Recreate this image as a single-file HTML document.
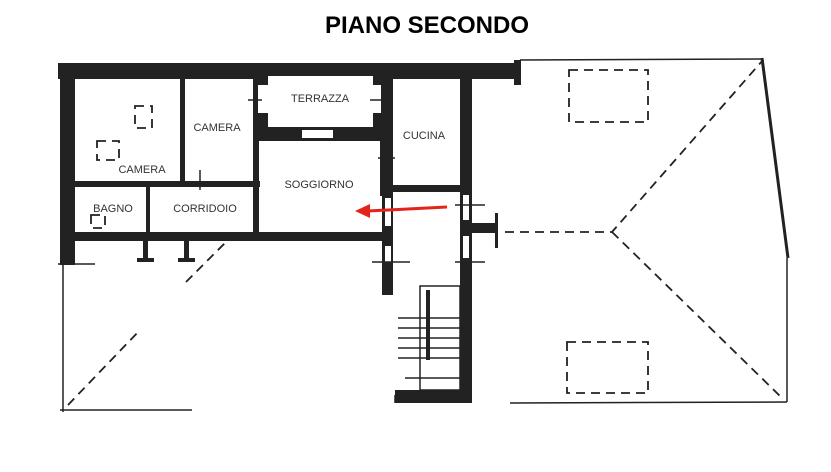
<!DOCTYPE html>
<html><head><style>
body{margin:0;background:#fff;width:831px;height:472px;overflow:hidden}
svg{display:block}
text{font-family:"Liberation Sans",sans-serif}
.l{font-size:11px;fill:#333}
</style></head><body>
<svg width="831" height="472" viewBox="0 0 831 472">
<text x="427" y="33" text-anchor="middle" font-size="24" font-weight="bold" fill="#000">PIANO SECONDO</text>
<g fill="#222">
<rect x="58" y="63" width="462" height="16"/>
<rect x="514" y="60" width="7" height="25"/>
<rect x="60" y="63" width="15" height="202"/>
<rect x="75" y="232" width="312" height="9"/>
<rect x="75" y="181" width="185" height="6"/>
<rect x="180" y="79" width="5" height="105"/>
<rect x="146" y="187" width="4" height="46"/>
<rect x="253" y="79" width="6" height="154"/>
<rect x="253" y="79" width="137" height="62"/>
<rect x="380" y="79" width="13" height="117"/>
<rect x="382" y="196" width="11" height="99"/>
<rect x="393" y="185" width="70" height="7"/>
<rect x="460" y="72" width="12" height="330"/>
<rect x="472" y="223" width="25" height="10"/>
<rect x="495" y="213" width="3" height="35"/>
<rect x="395" y="390" width="77" height="13"/>
<rect x="143" y="240" width="5" height="20"/><rect x="137" y="258" width="17" height="4"/>
<rect x="184" y="240" width="5" height="20"/><rect x="178" y="258" width="17" height="4"/>
</g>
<g fill="#fff">
<rect x="268" y="76" width="105" height="51"/>
<rect x="302" y="130" width="31" height="8"/>
<rect x="385" y="198" width="6" height="28"/>
<rect x="385" y="246" width="6" height="16"/>
<rect x="463" y="195" width="6" height="25"/>
<rect x="463" y="236" width="6" height="22"/>
<rect x="258" y="85" width="10" height="28"/>
<rect x="373" y="85" width="8" height="28"/>
</g>
<g stroke="#222" stroke-width="1.5" fill="none">
<line x1="372" y1="262" x2="410" y2="262"/>
<line x1="455" y1="262" x2="485" y2="262"/>
<line x1="455" y1="205" x2="485" y2="205"/>
<line x1="378" y1="158" x2="395" y2="158"/>
<line x1="200" y1="170" x2="200" y2="190"/>
<line x1="248" y1="100" x2="262" y2="100"/>
<line x1="370" y1="100" x2="386" y2="100"/>
<line x1="58" y1="264" x2="95" y2="264"/>
<line x1="63" y1="264" x2="63" y2="412"/>
<line x1="60" y1="410" x2="192" y2="410"/>
<rect x="420" y="286" width="40" height="104"/>
<line x1="428" y1="290" x2="428" y2="360" stroke-width="4"/>
<line x1="398" y1="318" x2="460" y2="318"/><line x1="398" y1="328" x2="460" y2="328"/>
<line x1="398" y1="338" x2="460" y2="338"/><line x1="398" y1="348" x2="460" y2="348"/>
<line x1="398" y1="358" x2="460" y2="358"/><line x1="405" y1="378" x2="460" y2="378"/>
<line x1="395" y1="395" x2="395" y2="403"/>
<line x1="520" y1="60" x2="763" y2="59"/>
<line x1="510" y1="403" x2="787" y2="402"/>
<line x1="787" y1="258" x2="787" y2="402"/>
</g>
<line x1="762" y1="58" x2="788" y2="258" stroke="#222" stroke-width="3"/>
<g stroke="#222" stroke-width="1.8" fill="none" stroke-dasharray="9,6">
<polyline points="505,232 612,232 763,60"/>
<line x1="612" y1="232" x2="780" y2="396"/>
<rect x="569" y="70" width="79" height="52"/>
<rect x="567" y="342" width="81" height="51"/>
<line x1="68" y1="405" x2="140" y2="330"/>
<line x1="186" y1="282" x2="225" y2="243"/>
<rect x="135" y="106" width="17" height="22"/>
<rect x="97" y="141" width="22" height="19"/>
<rect x="91" y="215" width="14" height="13"/>
</g>
<line x1="447" y1="207" x2="368" y2="211" stroke="#e5231b" stroke-width="3"/>
<polygon points="355,211 370,204 370,218" fill="#e5231b"/>
<text class="l" x="320" y="102" text-anchor="middle">TERRAZZA</text>
<text class="l" x="217" y="131" text-anchor="middle">CAMERA</text>
<text class="l" x="424" y="139" text-anchor="middle">CUCINA</text>
<text class="l" x="142" y="173" text-anchor="middle">CAMERA</text>
<text class="l" x="319" y="188" text-anchor="middle">SOGGIORNO</text>
<text class="l" x="113" y="212" text-anchor="middle">BAGNO</text>
<text class="l" x="205" y="212" text-anchor="middle">CORRIDOIO</text>
</svg>
</body></html>
